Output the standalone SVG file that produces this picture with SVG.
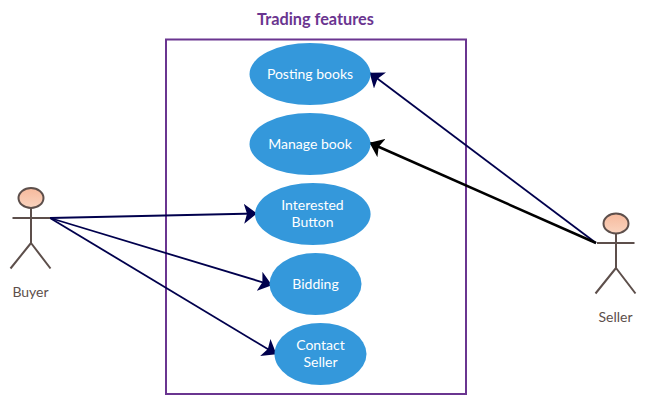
<svg xmlns="http://www.w3.org/2000/svg" width="645" height="403" viewBox="0 0 645 403">
<style>
text{font-family:Lato,"Open Sans","Liberation Sans",sans-serif;text-anchor:middle}
.uc{fill:#3498db}
.uc-t{fill:#fff;font-size:14px}
.a-l{fill:none;stroke:#5d4f4b;stroke-width:2}
.a-h{fill:url(#skin);stroke:#5d4f4b;stroke-width:2}
.a-t{fill:#5d4f4b;font-size:14px}
.c{stroke:#00004d;stroke-width:1.800;fill:none;marker-end:url(#nav)}
.k{stroke:#000;stroke-width:2.500;fill:none;marker-end:url(#blk)}
</style>
<defs>
<linearGradient id="skin" x1="0" y1="0" x2="0" y2="1"><stop offset="0" stop-color="#f6b99c"/><stop offset="1" stop-color="#fad4bf"/></linearGradient>
<marker id="nav" viewBox="0 0 13 20" refX="12.500" refY="10" markerWidth="13" markerHeight="20" markerUnits="userSpaceOnUse" orient="auto"><path d="M0 0L13 10L0 20L3 10Z" fill="#00004d"/></marker>
<marker id="blk" viewBox="0 0 13 20" refX="12.500" refY="10" markerWidth="13" markerHeight="20" markerUnits="userSpaceOnUse" orient="auto"><path d="M0 0L13 10L0 20L3 10Z" fill="#000"/></marker>
</defs>
<g id="boundary">
<rect x="166" y="39.500" width="300" height="354.500" fill="none" stroke="#6a3590" stroke-width="2"/>
<text x="315.500" y="25" font-size="16.300" font-weight="700" fill="#6a3590">Trading features</text>
</g>
<g id="connectors">
<path class="c" d="M596 243L370 73"/>
<path class="k" d="M596 243L370 143"/>
<path class="c" d="M50 218L256.500 213.500"/>
<path class="c" d="M50 218L271.500 285"/>
<path class="c" d="M50 218L276 354"/>
</g>
<g id="posting-books"><ellipse class="uc" cx="310" cy="74" rx="60.500" ry="31"/><text class="uc-t" x="310" y="79">Posting books</text></g>
<g id="manage-book"><ellipse class="uc" cx="310" cy="144" rx="60.500" ry="31"/><text class="uc-t" x="310" y="149">Manage book</text></g>
<g id="interested-button"><ellipse class="uc" cx="312.800" cy="214" rx="57.800" ry="31"/><text class="uc-t" x="312.500" y="210">Interested</text><text class="uc-t" x="312.500" y="227">Button</text></g>
<g id="bidding"><ellipse class="uc" cx="315.500" cy="284" rx="46" ry="31"/><text class="uc-t" x="315.500" y="289">Bidding</text></g>
<g id="contact-seller"><ellipse class="uc" cx="320.500" cy="354" rx="46" ry="31"/><text class="uc-t" x="320.500" y="350">Contact</text><text class="uc-t" x="320.500" y="367">Seller</text></g>
<g id="buyer">
<ellipse class="a-h" cx="31" cy="198" rx="12.500" ry="10"/>
<path class="a-l" d="M12.500 218H50M31 208V243M31 243L10.500 268.500M31 243L50.500 268.500"/>
<text class="a-t" x="30.500" y="297">Buyer</text>
</g>
<g id="seller">
<ellipse class="a-h" cx="616" cy="223.500" rx="12.500" ry="10"/>
<path class="a-l" d="M597 243H634.500M616 233.500V268M616 268L595.500 293.500M616 268L635.500 293.500"/>
<text class="a-t" x="615.500" y="322">Seller</text>
</g>
</svg>
